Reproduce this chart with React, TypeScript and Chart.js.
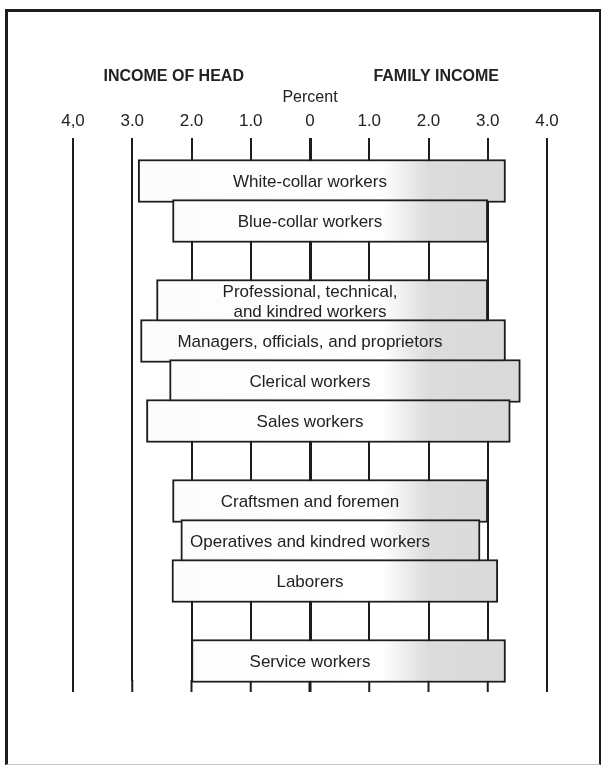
import React, { useEffect, useRef } from "react";
import { Chart, registerables } from "chart.js";

Chart.register(...registerables);

// ---- data ----
const CATEGORIES: (string | string[])[] = [
  "White-collar workers",
  "Blue-collar workers",
  "",
  ["Professional, technical,", "and kindred workers"],
  "Managers, officials, and proprietors",
  "Clerical workers",
  "Sales workers",
  "",
  "Craftsmen and foremen",
  "Operatives and kindred workers",
  "Laborers",
  "",
  "Service workers",
];
// percent (left side, income of head)
const INCOME_OF_HEAD: (number | null)[] = [2.9, 2.32, null, 2.59, 2.86, 2.37, 2.76, null, 2.32, 2.18, 2.33, null, 2.0];
// percent (right side, family income)
const FAMILY_INCOME: (number | null)[] = [3.3, 3.0, null, 3.0, 3.3, 3.55, 3.38, null, 3.0, 2.87, 3.17, null, 3.3];
const TICK_VALUES = [-4, -3, -2, -1, 0, 1, 2, 3, 4];
const TICK_LABELS = ["4,0", "3.0", "2.0", "1.0", "0", "1.0", "2.0", "3.0", "4.0"];
const LEFT_HEADING = "INCOME OF HEAD";
const RIGHT_HEADING = "FAMILY INCOME";
const AXIS_TITLE = "Percent";

const FONT = '"Liberation Sans", Arial, Helvetica, sans-serif';
const INK = "#1d1d1d";

export default function App() {
  const ref = useRef<HTMLCanvasElement | null>(null);

  useEffect(() => {
    if (!ref.current) return;

    const barData = CATEGORIES.map((_, i) => {
      const h = INCOME_OF_HEAD[i];
      const f = FAMILY_INCOME[i];
      return h == null || f == null ? null : [-h, f];
    });

    const gridExtend = {
      id: "gridExtend",
      beforeDatasetsDraw(chart: any) {
        const { ctx, chartArea, scales } = chart;
        ctx.save();
        ctx.strokeStyle = INK;
        TICK_VALUES.forEach((v) => {
          const x = scales.x.getPixelForValue(v);
          ctx.lineWidth = v === 0 ? 3 : 2;
          ctx.beginPath();
          ctx.moveTo(x, chartArea.bottom - 1);
          ctx.lineTo(x, chartArea.bottom + 11);
          ctx.stroke();
        });
        ctx.restore();
      },
    };

    const barLabels = {
      id: "barLabels",
      afterDatasetsDraw(chart: any) {
        const { ctx, scales } = chart;
        const meta = chart.getDatasetMeta(0);
        const x0 = scales.x.getPixelForValue(0);
        ctx.save();
        ctx.font = `17px ${FONT}`;
        ctx.fillStyle = "#222";
        ctx.textAlign = "center";
        ctx.textBaseline = "middle";
        meta.data.forEach((bar: any, i: number) => {
          if (barData[i] == null) return;
          const lab = CATEGORIES[i];
          const lines = Array.isArray(lab) ? lab : [lab];
          const lh = 20;
          const start = bar.y + 1 - ((lines.length - 1) * lh) / 2;
          lines.forEach((t, k) => ctx.fillText(t, x0, start + k * lh));
        });
        ctx.restore();
      },
    };

    const headings = {
      id: "headings",
      afterDraw(chart: any) {
        const { ctx, chartArea, scales } = chart;
        ctx.save();
        ctx.font = `bold 16px ${FONT}`;
        ctx.fillStyle = "#222";
        ctx.textAlign = "center";
        ctx.textBaseline = "middle";
        const y = chartArea.top - 84;
        ctx.fillText(LEFT_HEADING, scales.x.getPixelForValue(-2.3), y);
        ctx.fillText(RIGHT_HEADING, scales.x.getPixelForValue(2.13), y);
        ctx.restore();
      },
    };

    const chart = new Chart(ref.current, {
      type: "bar",
      data: {
        labels: CATEGORIES as any,
        datasets: [
          {
            data: barData as any,
            clip: false,
            backgroundColor: (c: any) => {
              const ch = c.chart;
              if (!ch.chartArea || !ch.scales.x) return "#ffffff";
              const sx = ch.scales.x;
              const x1 = sx.getPixelForValue(-4);
              const x2 = sx.getPixelForValue(4);
              const g = ch.ctx.createLinearGradient(x1, 0, x2, 0);
              g.addColorStop(0, "#fbfbfb");
              g.addColorStop(0.65, "#ffffff");
              g.addColorStop(0.75, "#dcdcdc");
              g.addColorStop(1, "#d8d8d8");
              return g;
            },
            borderColor: INK,
            borderWidth: 2,
            borderSkipped: false,
            barThickness: 43,
          },
        ],
      },
      options: {
        indexAxis: "y",
        responsive: false,
        animation: false,
        events: [],
        layout: { padding: { left: 73, right: 58, top: 89.6, bottom: 89 } },
        plugins: {
          legend: { display: false },
          tooltip: { enabled: false },
        },
        scales: {
          x: {
            type: "linear",
            position: "top",
            min: -4,
            max: 4,
            afterBuildTicks: (s: any) => {
              s.ticks = TICK_VALUES.map((v) => ({ value: v }));
            },
            ticks: {
              padding: 6,
              color: "#222",
              font: { family: FONT, size: 17 },
              callback: (v: any) => TICK_LABELS[TICK_VALUES.indexOf(Number(v))],
            },
            grid: {
              color: INK,
              lineWidth: (c: any) => (c.tick && c.tick.value === 0 ? 3 : 2),
              drawTicks: true,
              tickLength: 23,
            },
            border: { display: false },
            title: {
              display: true,
              text: AXIS_TITLE,
              color: "#222",
              font: { family: FONT, size: 16, lineHeight: 1 },
              padding: 0,
            },
          },
          y: {
            type: "category",
            display: false,
            offset: true,
            grid: { display: false },
          },
        },
      },
      plugins: [gridExtend, barLabels, headings],
    } as any);

    return () => chart.destroy();
  }, []);

  return (
    <div style={{ position: "absolute", left: 0, top: 0, width: 605, height: 770, background: "#fff" }}>
      <canvas ref={ref} width={605} height={770} style={{ position: "absolute", left: 0, top: 0, width: 605, height: 770 }} />
      <div
        style={{
          position: "absolute",
          left: 5,
          top: 9,
          width: 596,
          height: 756,
          boxSizing: "border-box",
          borderLeft: "3px solid #1d1d1d",
          borderTop: "3px solid #1d1d1d",
          borderRight: "2px solid #1d1d1d",
          borderBottom: "1px solid #c8c8c8",
          pointerEvents: "none",
        }}
      />
    </div>
  );
}
